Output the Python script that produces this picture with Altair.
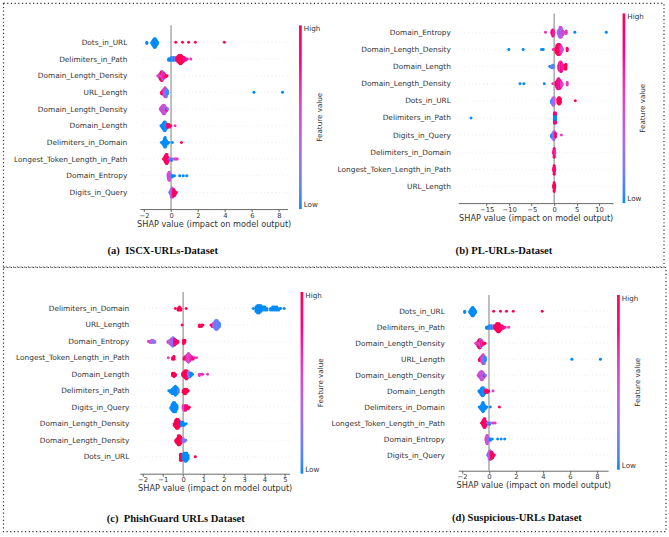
import altair as alt
import numpy as np
import pandas as pd

# Feature order (top to bottom) for each model's summary plot
ISCX_FEATURES = ["Dots_in_URL", "Delimiters_in_Path", "Domain_Length_Density", "URL_Length",
                 "Domain_Length_Density", "Domain_Length", "Delimiters_in_Domain",
                 "Longest_Token_Length_in_Path", "Domain_Entropy", "Digits_in_Query"]
PL_FEATURES = ["Domain_Entropy", "Domain_Length_Density", "Domain_Length", "Domain_Length_Density",
               "Dots_in_URL", "Delimiters_in_Path", "Digits_in_Query", "Delimiters_in_Domain",
               "Longest_Token_Length_in_Path", "URL_Length"]
PHISH_FEATURES = ["Delimiters_in_Domain", "URL_Length", "Domain_Entropy", "Longest_Token_Length_in_Path",
                  "Domain_Length", "Delimiters_in_Path", "Digits_in_Query", "Domain_Length_Density",
                  "Domain_Length_Density", "Dots_in_URL"]
SUSP_FEATURES = ["Dots_in_URL", "Delimiters_in_Path", "Domain_Length_Density", "URL_Length",
                 "Domain_Length_Density", "Domain_Length", "Delimiters_in_Domain",
                 "Longest_Token_Length_in_Path", "Domain_Entropy", "Digits_in_Query"]

# Per feature row: (SHAP value, normalised feature value 0=low..1=high, number of samples)
ISCX_ROWS = [
    [(-1.80, 0.0, 2), (-1.42, 0.0, 2), (-1.36, 0.0, 4), (-1.30, 0.0, 6), (-1.24, 0.0, 8), (-1.18, 0.0, 8),
     (-1.12, 0.0, 6), (-1.06, 0.0, 4), (-1.00, 0.0, 2), (0.35, 1.0, 1), (0.85, 1.0, 1), (1.30, 1.0, 1),
     (1.80, 1.0, 1), (3.95, 1.0, 1)],
    [(-0.18, 0.0, 2), (-0.10, 0.0, 2), (0.00, 0.0, 3), (0.08, 0.05, 3), (0.16, 0.1, 3), (0.24, 0.0, 3),
     (0.32, 0.15, 3), (0.42, 1.0, 3), (0.50, 1.0, 5), (0.58, 0.95, 7), (0.66, 1.0, 8), (0.74, 1.0, 8),
     (0.82, 0.95, 6), (0.90, 0.9, 4), (0.98, 0.85, 3), (1.08, 0.8, 2), (1.20, 0.7, 1), (1.46, 0.6, 1)],
    [(-0.98, 0.5, 1), (-0.90, 0.55, 2), (-0.84, 0.6, 4), (-0.78, 0.5, 3), (-0.78, 0.9, 3), (-0.72, 0.55, 4),
     (-0.72, 1.0, 4), (-0.66, 0.6, 4), (-0.66, 0.85, 4), (-0.60, 0.5, 4), (-0.60, 0.2, 3), (-0.54, 0.75, 5),
     (-0.48, 0.6, 3), (-0.40, 0.95, 2), (-0.30, 1.0, 1)],
    [(-0.70, 1.0, 2), (-0.62, 0.9, 3), (-0.53, 0.55, 5), (-0.44, 0.2, 4), (-0.44, 0.6, 3), (-0.35, 0.1, 6),
     (-0.26, 0.05, 3), (6.15, 0.0, 1), (8.27, 0.0, 1)],
    [(-0.80, 0.5, 1), (-0.74, 0.55, 3), (-0.68, 0.5, 5), (-0.62, 0.6, 4), (-0.62, 0.35, 3), (-0.56, 0.45, 8),
     (-0.50, 0.55, 8), (-0.44, 0.4, 6), (-0.38, 0.3, 4), (-0.32, 0.8, 2), (-0.26, 0.2, 1)],
    [(-0.75, 0.0, 1), (-0.68, 0.0, 2), (-0.62, 0.0, 4), (-0.56, 0.0, 6), (-0.50, 0.0, 8), (-0.44, 0.0, 8),
     (-0.38, 0.05, 6), (-0.32, 0.0, 4), (-0.25, 0.9, 3), (-0.18, 1.0, 3), (-0.10, 0.85, 2), (-0.02, 1.0, 1),
     (0.30, 0.6, 1)],
    [(-0.72, 0.0, 1), (-0.64, 0.0, 2), (-0.56, 0.0, 4), (-0.50, 0.0, 7), (-0.44, 0.0, 9), (-0.38, 0.0, 6),
     (-0.32, 0.0, 3), (-0.24, 0.0, 2), (-0.16, 0.0, 1), (0.10, 0.0, 1), (0.77, 1.0, 1)],
    [(-0.56, 1.0, 1), (-0.48, 1.0, 3), (-0.42, 0.95, 5), (-0.36, 1.0, 7), (-0.30, 0.9, 7), (-0.24, 0.95, 4),
     (-0.18, 0.8, 2), (-0.10, 0.5, 1), (0.04, 0.0, 2), (0.12, 0.2, 1), (0.28, 0.6, 1), (0.36, 0.5, 1),
     (0.46, 0.6, 1)],
    [(-0.22, 0.5, 3), (-0.18, 0.55, 6), (-0.14, 0.5, 8), (-0.10, 0.45, 6), (-0.06, 0.5, 3), (0.02, 0.2, 1),
     (0.10, 0.0, 2), (0.25, 0.0, 1), (0.64, 0.0, 1), (0.90, 0.0, 1), (1.16, 0.0, 1)],
    [(-0.10, 0.2, 1), (-0.04, 0.1, 3), (0.02, 0.3, 6), (0.08, 0.4, 7), (0.14, 0.7, 6), (0.20, 0.9, 5),
     (0.26, 1.0, 4), (0.32, 1.0, 2), (0.40, 0.9, 1)],
]

PL_ROWS = [
    [(-1.93, 0.6, 1), (-0.50, 0.8, 3), (-0.30, 0.9, 6), (-0.10, 0.7, 4), (0.90, 0.4, 3), (1.10, 0.25, 6),
     (1.30, 0.4, 9), (1.50, 0.55, 9), (1.70, 0.3, 7), (1.90, 0.6, 4), (2.10, 0.5, 2), (2.67, 0.6, 3),
     (4.60, 0.0, 1), (11.60, 0.0, 1)],
    [(-10.10, 0.0, 1), (-6.90, 0.0, 1), (-2.80, 0.0, 1), (-2.45, 0.0, 1), (-0.20, 0.6, 1), (0.40, 1.0, 4),
     (0.60, 0.95, 7), (0.80, 1.0, 9), (1.00, 0.85, 9), (1.20, 0.95, 9), (1.40, 0.7, 7), (1.60, 0.6, 5),
     (1.80, 0.4, 3), (2.90, 0.9, 3)],
    [(-0.97, 0.0, 1), (-0.60, 0.1, 2), (-0.40, 0.2, 3), (-0.20, 0.1, 3), (1.00, 0.6, 4), (1.20, 0.75, 7),
     (1.40, 0.55, 9), (1.60, 0.8, 8), (1.80, 0.7, 5), (2.40, 1.0, 4), (2.60, 1.0, 5)],
    [(-7.60, 0.0, 1), (-6.75, 0.0, 1), (-2.20, 0.0, 1), (-0.30, 0.6, 1), (0.40, 0.9, 3), (0.60, 0.9, 6),
     (0.80, 0.8, 8), (1.00, 0.85, 9), (1.20, 0.7, 8), (1.40, 0.8, 6), (1.60, 0.6, 4), (1.80, 0.5, 2),
     (2.90, 0.6, 3)],
    [(-0.60, 0.0, 2), (-0.40, 0.2, 4), (-0.20, 0.3, 6), (0.00, 0.4, 5), (0.80, 1.0, 3), (1.00, 1.0, 5),
     (1.20, 0.95, 5), (1.40, 1.0, 3), (4.70, 1.0, 1)],
    [(-18.50, 0.0, 1), (0.05, 0.0, 5), (0.05, 0.9, 4), (0.30, 0.0, 5), (0.30, 0.9, 4)],
    [(-0.60, 0.0, 2), (-0.30, 0.1, 4), (-0.10, 0.3, 6), (0.10, 0.5, 5), (0.30, 0.9, 3), (1.60, 0.6, 1)],
    [(-0.10, 1.0, 3), (0.00, 0.85, 8), (0.10, 0.7, 3)],
    [(-0.10, 0.9, 3), (0.00, 1.0, 8), (0.10, 0.8, 3)],
    [(-0.10, 1.0, 3), (0.00, 0.95, 8), (0.10, 1.0, 3)],
]

PHISH_ROWS = [
    [(-0.38, 1.0, 1), (-0.25, 1.0, 2), (-0.18, 1.0, 3), (-0.11, 1.0, 2), (0.15, 1.0, 1), (3.45, 0.0, 1),
     (3.58, 0.0, 4), (3.66, 0.0, 6), (3.74, 0.0, 6), (3.82, 0.0, 5), (3.92, 0.0, 3), (4.02, 0.0, 3),
     (4.12, 0.0, 2), (4.30, 0.0, 2), (4.40, 0.0, 3), (4.50, 0.0, 3), (4.60, 0.0, 3), (4.70, 0.0, 2),
     (4.80, 0.0, 1), (4.97, 0.0, 1)],
    [(-0.05, 1.0, 1), (0.80, 1.0, 2), (0.90, 1.0, 2), (0.97, 1.0, 1), (1.37, 1.0, 1), (1.43, 0.8, 2),
     (1.49, 0.5, 3), (1.55, 0.2, 5), (1.61, 0.1, 7), (1.67, 0.15, 7), (1.73, 0.2, 5), (1.79, 0.1, 3)],
    [(-1.70, 0.6, 1), (-1.62, 0.55, 2), (-1.55, 0.4, 3), (-1.48, 0.3, 3), (-1.40, 0.2, 2), (-0.74, 0.6, 2),
     (-0.66, 0.3, 4), (-0.58, 0.5, 6), (-0.50, 0.15, 8), (-0.42, 0.8, 6), (-0.34, 0.9, 4), (-0.26, 1.0, 2),
     (0.02, 1.0, 4), (0.08, 1.0, 3)],
    [(-0.73, 0.6, 1), (-0.52, 1.0, 2), (-0.45, 1.0, 3), (0.05, 1.0, 2), (0.12, 0.9, 3), (0.19, 0.6, 5),
     (0.26, 0.5, 7), (0.33, 0.6, 5), (0.40, 0.7, 3), (0.48, 0.8, 2), (0.56, 0.7, 1), (0.66, 0.6, 1)],
    [(-0.52, 1.0, 3), (-0.45, 1.0, 4), (-0.38, 1.0, 2), (-0.02, 1.0, 3), (0.04, 1.0, 5), (0.10, 1.0, 7),
     (0.16, 0.95, 8), (0.22, 0.9, 6), (0.28, 0.2, 5), (0.34, 0.1, 4), (0.40, 0.0, 3), (0.46, 0.0, 1),
     (0.80, 0.6, 2), (0.88, 0.6, 1), (0.96, 0.7, 1), (1.20, 0.6, 1)],
    [(-0.70, 0.0, 1), (-0.62, 0.0, 2), (-0.54, 0.0, 4), (-0.46, 0.0, 5), (-0.38, 0.0, 7), (-0.30, 0.0, 5),
     (-0.24, 0.1, 3), (0.00, 1.0, 2), (0.06, 1.0, 4), (0.12, 1.0, 4), (0.18, 1.0, 3), (0.25, 1.0, 1)],
    [(-0.60, 0.0, 2), (-0.54, 0.0, 5), (-0.48, 0.0, 7), (-0.42, 0.0, 7), (-0.36, 0.0, 6), (-0.30, 0.0, 3),
     (0.00, 0.6, 3), (0.06, 0.5, 4), (0.12, 0.8, 4), (0.18, 0.9, 3), (0.25, 1.0, 2), (0.30, 1.0, 1)],
    [(-0.44, 1.0, 2), (-0.38, 1.0, 5), (-0.32, 1.0, 7), (-0.26, 1.0, 7), (-0.20, 1.0, 5), (-0.14, 1.0, 3),
     (-0.08, 0.0, 3), (-0.02, 0.0, 3), (0.05, 0.0, 2), (0.15, 0.0, 1)],
    [(-0.36, 1.0, 2), (-0.30, 1.0, 4), (-0.24, 1.0, 7), (-0.18, 1.0, 7), (-0.12, 1.0, 5), (-0.06, 0.9, 3),
     (0.00, 0.2, 3), (0.06, 0.3, 2), (0.13, 0.1, 1)],
    [(-0.13, 1.0, 6), (-0.08, 1.0, 6), (0.00, 0.0, 5), (0.06, 0.0, 7), (0.12, 0.0, 8), (0.18, 0.0, 7),
     (0.24, 0.0, 4), (0.60, 1.0, 1)],
]

SUSP_ROWS = ISCX_ROWS  # the Suspicious-URLs model gives the same attributions

TICKS_ISCX = [-2, 0, 2, 4, 6, 8]
TICKS_PL = [-15, -10, -5, 0, 5, 10]
TICKS_PHISH = [-2, -1, 0, 1, 2, 3, 4, 5]
TICKS_SUSP = [-2, 0, 2, 4, 6, 8]

LOW_COLOR, HIGH_COLOR = "#008bfb", "#ff0051"
TEXT_COLOR = "#333333"


def swarm(values, row_height=0.4, nbins=100):
    """Vertical beeswarm offsets (in row units), piling points that share an x bin."""
    x = np.asarray(values, dtype=float)
    quant = np.round(nbins * (x - x.min()) / (x.max() - x.min() + 1e-8))
    ys = np.zeros(len(x))
    layer, last = 0, None
    for i in np.argsort(quant, kind="stable"):
        if quant[i] != last:
            layer = 0
        ys[i] = np.ceil(layer / 2) * ((layer % 2) * 2 - 1)
        layer += 1
        last = quant[i]
    return ys * 0.9 * (row_height / np.max(ys + 1))


def points_frame(rows):
    recs = []
    for r, clusters in enumerate(rows):
        xs, fs = [], []
        for sv, fv, n in clusters:
            xs += [sv] * n
            fs += [fv] * n
        for sv, fv, dy in zip(xs, fs, swarm(xs)):
            recs.append({"shap": sv, "feat": fv, "ypos": r + dy})
    return pd.DataFrame(recs)


def panel(features, rows, xdom, ticks, w, h, row0, step, zero_top, lab_pad,
          bar_x, bar_y, bar_len, caption, cap_x, cap_y, border=None):
    df = points_frame(rows)
    lo = -row0 / step
    hi = lo + h / step
    names = "[" + ",".join("'%s'" % f for f in features) + "]"
    y_enc = alt.Y(
        "ypos:Q",
        scale=alt.Scale(domain=[lo, hi], reverse=True, nice=False, zero=False),
        axis=alt.Axis(values=list(range(len(features))), labelExpr=names + "[datum.value]",
                      domain=False, ticks=False, grid=False, labelOverlap=False,
                      labelPadding=lab_pad, labelFontSize=7.4, labelColor=TEXT_COLOR),
        title=None,
    )
    x_enc = alt.X(
        "shap:Q",
        scale=alt.Scale(domain=xdom, nice=False, zero=False),
        axis=alt.Axis(values=ticks, grid=False, domainColor="#444444", domainWidth=0.8,
                      tickColor="#444444", tickSize=2.5, tickWidth=0.8, labelPadding=0.5,
                      labelFontSize=6.8, labelColor=TEXT_COLOR, titleFontSize=8.2,
                      titleFontWeight="normal", titleColor=TEXT_COLOR, titlePadding=1.5),
        title="SHAP value (impact on model output)",
    )

    grid = alt.Chart(pd.DataFrame({"ypos": list(range(len(features)))})).mark_rule(
        color="#cccccc", strokeWidth=0.5, strokeDash=[0.8, 3]
    ).encode(y=y_enc)

    zero = alt.Chart(pd.DataFrame({"shap": [0.0]})).mark_rule(
        color="#a3a3a3", strokeWidth=1.4
    ).encode(x=x_enc, y=alt.value(zero_top), y2=alt.value(h))

    dots = alt.Chart(df).mark_circle(size=9, opacity=1).encode(
        x=x_enc,
        y=y_enc,
        color=alt.Color(
            "feat:Q",
            scale=alt.Scale(domain=[0, 1], range=[LOW_COLOR, HIGH_COLOR], interpolate="hcl"),
            legend=alt.Legend(orient="none", legendX=bar_x, legendY=bar_y, direction="vertical",
                              gradientLength=bar_len, gradientThickness=2.7, gradientStrokeWidth=0,
                              values=[0, 1], labelExpr="datum.value > 0.5 ? 'High' : 'Low'",
                              labelFontSize=7.2, labelColor=TEXT_COLOR, labelOffset=2,
                              labelBaseline="middle", padding=0),
            title=None,
        ),
    )

    bar_title = alt.Chart(pd.DataFrame({"t": ["Feature value"]})).mark_text(
        angle=270, fontSize=7.2, color=TEXT_COLOR, font="DejaVu Sans", align="center", baseline="middle"
    ).encode(text="t:N", x=alt.value(bar_x + 20.5), y=alt.value(bar_y + bar_len / 2))

    cap = alt.Chart(pd.DataFrame({"t": [caption]})).mark_text(
        fontSize=10.6, fontWeight="bold", font="Liberation Serif", color="#111111",
        align="center", baseline="middle"
    ).encode(text="t:N", x=alt.value(cap_x), y=alt.value(cap_y))

    layers = [grid, zero, dots, bar_title, cap]
    if border is not None:
        bx0, bx1, by0, by1 = border
        frame = alt.Chart(pd.DataFrame({"k": [0]})).mark_rect(
            fill="transparent", stroke="#333333", strokeWidth=1.2, strokeDash=[1.2, 2.5]
        ).encode(x=alt.value(bx0), x2=alt.value(bx1), y=alt.value(by0), y2=alt.value(by1))
        layers = [frame] + layers
    return alt.layer(*layers).properties(width=w, height=h)


p_a = panel(ISCX_FEATURES, ISCX_ROWS, [-2.319, 8.644], TICKS_ISCX, 148, 196,
            row0=29, step=16.7, zero_top=12, lab_pad=13,
            bar_x=159.5, bar_y=12, bar_len=184,
            caption="(a)\u00a0 ISCX-URLs-Dataset", cap_x=23, cap_y=238,
            border=(-136.5, 525, -10, 254))
p_b = panel(PL_FEATURES, PL_ROWS, [-21.33, 13.11], TICKS_PL, 155, 190,
            row0=19, step=17.15, zero_top=0, lab_pad=8,
            bar_x=164.5, bar_y=0, bar_len=190,
            caption="(b) PL-URLs-Dataset", cap_x=45.7, cap_y=238)
p_c = panel(PHISH_FEATURES, PHISH_ROWS, [-2.131, 5.233], TICKS_PHISH, 150, 182,
            row0=16.5, step=16.5, zero_top=0, lab_pad=11,
            bar_x=161, bar_y=0, bar_len=182,
            caption="(c)\u00a0 PhishGuard URLs Dataset", cap_x=36, cap_y=227.7,
            border=(-136.5, 527, -24.5, 240))
p_d = panel(SUSP_FEATURES, SUSP_ROWS, [-2.274, 8.837], TICKS_SUSP, 150, 179,
            row0=19.3, step=16.0, zero_top=3, lab_pad=14,
            bar_x=159, bar_y=3, bar_len=175,
            caption="(d) Suspicious-URLs Dataset", cap_x=58.7, cap_y=226.7)

chart = alt.concat(
    p_a, p_b, p_c, p_d, columns=2, spacing={"row": 83, "column": 169}, bounds="flush"
).resolve_scale(
    x="independent", y="independent", color="independent"
).resolve_legend(
    color="independent"
).properties(
    padding={"left": 2, "top": 2, "right": 2, "bottom": 2}
).configure_view(
    stroke=None
).configure_axis(
    labelFont="DejaVu Sans", titleFont="DejaVu Sans"
).configure_legend(
    labelFont="DejaVu Sans"
)

chart.save("out.html", embed_options={"renderer": "svg", "actions": False})
